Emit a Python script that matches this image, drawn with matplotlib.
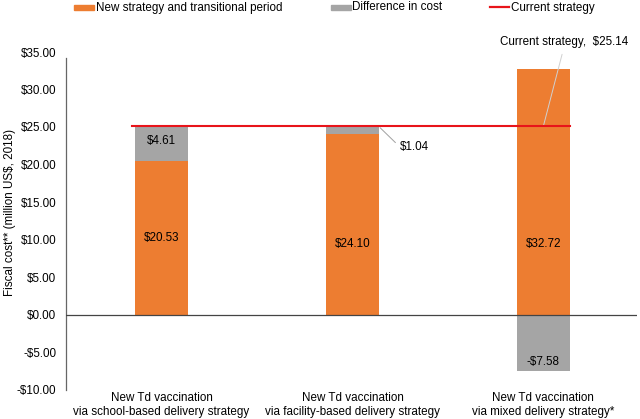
import matplotlib
matplotlib.use("Agg")
import matplotlib.pyplot as plt
from matplotlib.patches import Rectangle
from matplotlib.lines import Line2D

plt.rcParams['font.family'] = ['Liberation Sans', 'DejaVu Sans']

categories = ["New Td vaccination\nvia school-based delivery strategy",
              "New Td vaccination\nvia facility-based delivery strategy",
              "New Td vaccination\nvia mixed delivery strategy*"]
new_strategy = [20.53, 24.10, 32.72]
difference = [4.61, 1.04, -7.58]
current_strategy = 25.14
legend_labels = ["New strategy and transitional period", "Difference in cost", "Current strategy"]
yticks = [-10, -5, 0, 5, 10, 15, 20, 25, 30, 35]

orange = "#ED7D31"
gray = "#A5A5A5"
red = "#E8141A"

fig = plt.figure(figsize=(6.4, 4.19), dpi=100)
ax = fig.add_axes([66/640, 1-389.5/419, 571/640, (389.5-52)/419])

x = list(range(len(categories)))
w = 0.28
ax.bar(x, new_strategy, width=w, color=orange, zorder=2)
diff_bottoms = [n if d > 0 else 0 for n, d in zip(new_strategy, difference)]
ax.bar(x, difference, width=w, bottom=diff_bottoms, color=gray, zorder=2)

ax.axhline(0, color="#444444", lw=0.9, zorder=3)
ax.plot([-0.155, 2.14], [current_strategy, current_strategy], color=red, lw=1.5, zorder=4)

fs = 8.4
# value labels
ax.text(0, 10.2, f"${new_strategy[0]:.2f}", ha="center", va="center", fontsize=fs)
ax.text(1, 9.4, f"${new_strategy[1]:.2f}", ha="center", va="center", fontsize=fs)
ax.text(2, 9.4, f"${new_strategy[2]:.2f}", ha="center", va="center", fontsize=fs)
ax.text(0, 23.1, f"${difference[0]:.2f}", ha="center", va="center", fontsize=fs)
ax.text(2, -6.3, f"-${abs(difference[2]):.2f}", ha="center", va="center", fontsize=fs)

# $1.04 annotation
ax.annotate(f"${difference[1]:.2f}", xy=(1.145, 24.9), xytext=(1.25, 22.3),
            ha="left", va="center", fontsize=fs,
            arrowprops=dict(arrowstyle="-", color="#A0A0A0", lw=0.7, shrinkB=0, shrinkA=2,
                            relpos=(0, 0.5)))
# Current strategy annotation
ax.annotate(f"Current strategy,  ${current_strategy:.2f}", xy=(2.0, current_strategy),
            xytext=(2.107, 36.4), ha="center", va="center", fontsize=fs,
            arrowprops=dict(arrowstyle="-", color="#D0D0D0", lw=0.7, shrinkB=0, shrinkA=3,
                            relpos=(0.5, 0)),
            annotation_clip=False)

ax.set_xlim(-0.5, 2.49)
ax.set_ylim(-10, 35)
ax.set_yticks(yticks)
ax.set_yticklabels([f"${v:.2f}" if v >= 0 else f"-${abs(v):.2f}" for v in yticks], fontsize=fs)
ax.set_xticks(x)
ax.set_xticklabels(categories, fontsize=fs, linespacing=1.15)
ax.tick_params(axis="y", length=0, pad=7)
ax.tick_params(axis="x", length=0, pad=2)
for s in ["top", "right", "bottom"]:
    ax.spines[s].set_visible(False)
ax.spines["left"].set_color("#666666")
ax.spines["left"].set_linewidth(0.9)
ax.spines["left"].set_bounds(-10, 34.2)
fig.text(10/640, 1-212/419, "Fiscal cost** (million US$, 2018)", rotation=90,
         fontsize=fs, ha="center", va="center")

# legend drawn manually
ly = 1 - 7.5/419
fig.patches.append(Rectangle((74/640, ly - 2.5/419), 20/640, 5/419, transform=fig.transFigure,
                             color=orange))
fig.text(96/640, ly, legend_labels[0], fontsize=fs, va="center", ha="left")
fig.patches.append(Rectangle((331/640, ly - 2.5/419), 20/640, 5/419, transform=fig.transFigure,
                             color=gray))
fig.text(352/640, ly, legend_labels[1], fontsize=fs, va="center", ha="left")
fig.lines.append(Line2D([490/640, 509/640], [ly, ly], transform=fig.transFigure,
                        color=red, lw=1.6))
fig.text(511/640, ly, legend_labels[2], fontsize=fs, va="center", ha="left")

fig.savefig("out.png", dpi=100)
